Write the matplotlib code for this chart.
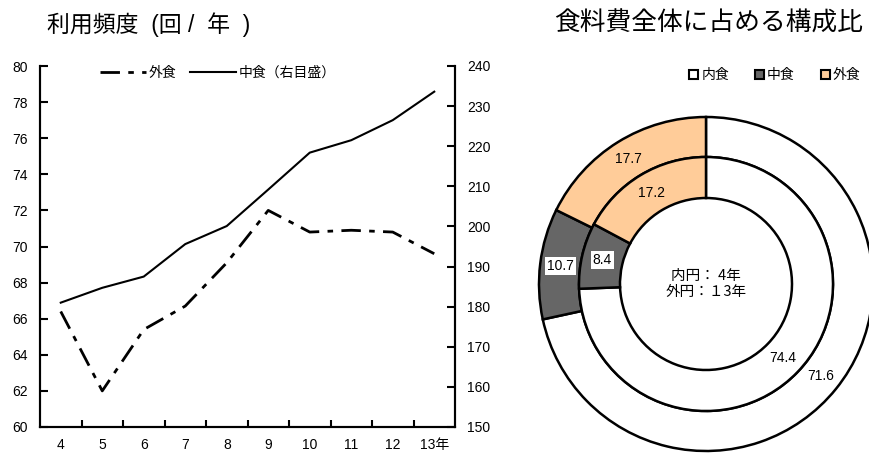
import numpy as np
import matplotlib.pyplot as plt
from matplotlib.patches import Patch

plt.rcParams['font.family'] = ['Liberation Sans', 'Noto Sans CJK JP', 'DejaVu Sans']

# left chart data
years = ['4', '5', '6', '7', '8', '9', '10', '11', '12', '13年']
gaishoku = [66.4, 62.0, 65.4, 66.7, 69.1, 72.0, 70.8, 70.9, 70.8, 69.6]
nakashoku = [181.0, 184.7, 187.5, 195.6, 200.1, 209.2, 218.4, 221.5, 226.5, 233.6]

# right chart data (percent)
cats = ['内食', '中食', '外食']
share_4 = [74.4, 8.4, 17.2]
share_13 = [71.6, 10.7, 17.7]
colors = ['#FFFFFF', '#666666', '#FFCC99']

W, H = 869, 454
fig = plt.figure(figsize=(W / 100, H / 100), dpi=100)

# ---- line chart ----
ax = fig.add_axes([40 / W, (H - 427) / H, 415 / W, 361 / H])
ax2 = ax.twinx()
x = np.arange(len(years))
l1, = ax.plot(x, gaishoku, color='black', lw=2, linestyle=(0, (7, 3, 2, 3)))
l2, = ax2.plot(x, nakashoku, color='black', lw=1.5)

ax.set_xlim(-0.5, len(years) - 0.5)
ax.set_ylim(60, 80)
ax.set_yticks(np.arange(60, 81, 2))
ax2.set_ylim(150, 240)
ax2.set_yticks(np.arange(150, 241, 10))
ax.set_xticks(x)
ax.set_xticklabels(years)
ax.set_xticks(np.arange(0.5, len(years) - 1, 1), minor=True)
ax.tick_params(axis='x', which='major', length=0, pad=8, labelsize=10)
ax.tick_params(axis='x', which='minor', direction='in', length=5, width=1.5)
ax.tick_params(axis='y', direction='in', length=6, width=1.5, labelsize=10, pad=9)
ax2.tick_params(axis='y', direction='in', length=6, width=1.5, labelsize=10, pad=9)
for a in (ax, ax2):
    a.spines['top'].set_visible(False)
    for s in ('left', 'right', 'bottom'):
        a.spines[s].set_linewidth(1.5)

ax.legend([l1, l2], ['外食', '中食（右目盛）'], ncol=2, frameon=False,
          loc='upper left', bbox_to_anchor=(0.115, 1.035), handlelength=3.3,
          handletextpad=0.2, columnspacing=1.0, fontsize=10)

fig.text(47 / W, 1 - 25 / H, '利用頻度  (回 /  年  )', fontsize=16.5,
         ha='left', va='center')

# ---- donut chart ----
R = 167
pad = 1.01
axp = fig.add_axes([(706 - R * pad) / W, (H - 284 - R * pad) / H,
                    2 * R * pad / W, 2 * R * pad / H])
w_out = 40 / R
w_in = 41 / R
r_mid = 127 / R
outer, _ = axp.pie(share_13, radius=1.0, colors=colors, startangle=90,
                   counterclock=False,
                   wedgeprops=dict(width=w_out, edgecolor='black', linewidth=1.8))
inner, _ = axp.pie(share_4, radius=r_mid, colors=colors, startangle=90,
                   counterclock=False,
                   wedgeprops=dict(width=w_in, edgecolor='black', linewidth=1.8))
axp.set_xlim(-pad, pad)
axp.set_ylim(-pad, pad)
axp.set_aspect('equal')
axp.axis('off')

def label_ring(wedges, vals, rmid):
    for wdg, v, c in zip(wedges, vals, colors):
        ang = np.deg2rad((wdg.theta1 + wdg.theta2) / 2)
        xx, yy = rmid * np.cos(ang), rmid * np.sin(ang)
        bbox = None
        if c == '#666666':
            bbox = dict(facecolor='white', edgecolor='none', pad=1.5)
        axp.text(xx, yy, f'{v}', ha='center', va='center', fontsize=10,
                 bbox=bbox)

label_ring(outer, share_13, 1.0 - w_out / 2)
label_ring(inner, share_4, r_mid - w_in / 2)

axp.text(0, 0, '内円： 4年\n外円：１3年', ha='center', va='center',
         fontsize=10.5, linespacing=1.25,
         family=['Noto Sans CJK JP', 'DejaVu Sans'])

handles = [Patch(facecolor=c, edgecolor='black', linewidth=1.5) for c in colors]
fig.legend(handles, cats, ncol=3, frameon=False, loc='center right',
           bbox_to_anchor=(1.005, 1 - 75 / H), handlelength=0.6, handleheight=0.6,
           handletextpad=0.25, columnspacing=1.9,
           prop=dict(family=['Noto Sans CJK JP'], size=10))

fig.text(709 / W, 1 - 24 / H, '食料費全体に占める構成比', fontsize=18.5,
         ha='center', va='center', family=['Noto Sans CJK JP', 'DejaVu Sans'])

fig.savefig('out.png', dpi=100)
